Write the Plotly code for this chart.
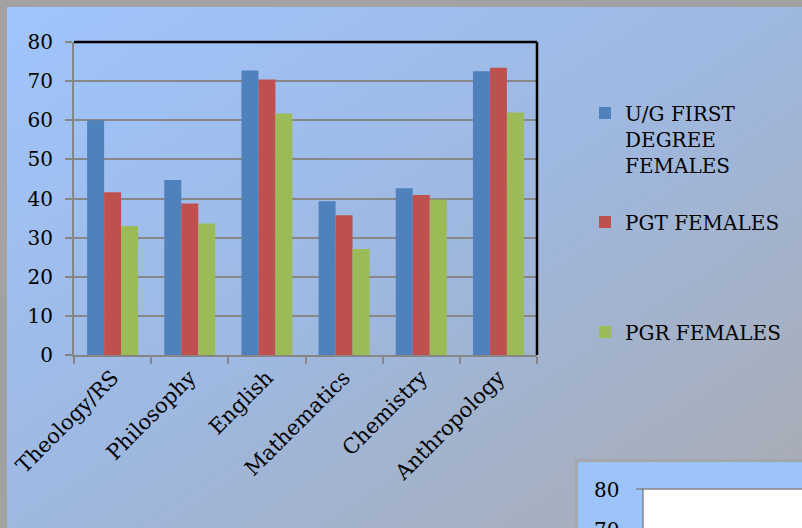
import base64
import plotly.graph_objects as go

# ---------------- data ----------------
categories = ["Theology/RS", "Philosophy", "English", "Mathematics", "Chemistry", "Anthropology"]
ug_first_degree_females = [60.0, 44.7, 72.7, 39.3, 42.6, 72.5]
pgt_females = [41.6, 38.7, 70.4, 35.7, 40.9, 73.4]
pgr_females = [33.0, 33.6, 61.7, 27.1, 39.7, 62.0]
series_names = ["U/G FIRST<br>DEGREE<br>FEMALES", "PGT FEMALES", "PGR FEMALES"]
y_tick_values = [0, 10, 20, 30, 40, 50, 60, 70, 80]

# ---------------- styling ----------------
W, H = 802, 528
PL, PR, PT, PB = 74, 537, 42, 355  # plot area in pixels
FONT = "DejaVu Serif"
colors = ["#4f81bd", "#c0504d", "#9bbb59"]


def xp(px):
    return (px - PL) / (PR - PL)


def yp(py):
    return (PB - py) / (PB - PT)


fig = go.Figure()
for name, vals, col, lg in zip(series_names,
                               [ug_first_degree_females, pgt_females, pgr_females],
                               colors, ["legend", "legend2", "legend3"]):
    fig.add_trace(go.Bar(x=categories, y=vals, name=name, marker_color=col,
                         marker_line_width=0, legend=lg, showlegend=True))

# background gradient as svg image
svg = ('<svg xmlns="http://www.w3.org/2000/svg" width="800" height="520" preserveAspectRatio="none">'
       '<defs><linearGradient id="g" x1="0" y1="0" x2="1" y2="1">'
       '<stop offset="0" stop-color="#9fc5fd"/>'
       '<stop offset="0.5" stop-color="#9eb8e0"/>'
       '<stop offset="1" stop-color="#aaabb0"/>'
       '</linearGradient></defs>'
       '<rect width="800" height="520" fill="url(#g)"/></svg>')
src = "data:image/svg+xml;base64," + base64.b64encode(svg.encode()).decode()
fig.add_layout_image(dict(source=src, xref="paper", yref="paper",
                          x=xp(7), y=yp(7), sizex=(W - 7) / (PR - PL), sizey=(H - 7) / (PB - PT),
                          xanchor="left", yanchor="top", sizing="stretch", layer="below"))

shapes = [
    # black top and right border of plot area
    dict(type="line", xref="paper", yref="paper", x0=0, x1=1, y0=1, y1=1,
         line=dict(color="#000000", width=2.5)),
    dict(type="line", xref="paper", yref="paper", x0=1, x1=1, y0=0, y1=1,
         line=dict(color="#000000", width=2.5)),
    # fragment of the neighbouring chart in the lower right
    dict(type="rect", xref="paper", yref="paper", x0=xp(575), x1=xp(806), y0=yp(459), y1=yp(540),
         line_width=0, fillcolor="#a5a7ac"),
    dict(type="rect", xref="paper", yref="paper", x0=xp(578), x1=xp(806), y0=yp(462), y1=yp(540),
         line_width=0, fillcolor="#9dc3fb"),
    dict(type="rect", xref="paper", yref="paper", x0=xp(643), x1=xp(806), y0=yp(489), y1=yp(540),
         line=dict(color="#868686", width=1.5), fillcolor="#ffffff"),
    dict(type="line", xref="paper", yref="paper", x0=xp(636), x1=xp(643), y0=yp(489), y1=yp(489),
         line=dict(color="#868686", width=1.5)),
]

annotations = [
    dict(text="80", xref="paper", yref="paper", x=xp(621), y=yp(490), xanchor="right", yanchor="middle",
         showarrow=False, font=dict(family=FONT, size=20, color="#000000")),
    dict(text="70", xref="paper", yref="paper", x=xp(621), y=yp(530), xanchor="right", yanchor="middle",
         showarrow=False, font=dict(family=FONT, size=20, color="#000000")),
]

leg_common = dict(bgcolor="rgba(0,0,0,0)", borderwidth=0, xanchor="left", yanchor="middle",
                  valign="top", font=dict(family=FONT, size=20, color="#000000"), itemclick=False,
                  visible=True)

fig.update_layout(
    width=W, height=H,
    margin=dict(l=PL, r=W - PR, t=PT, b=H - PB, pad=0),
    paper_bgcolor="#a2a2a2",
    plot_bgcolor="#ffffff",
    showlegend=True,
    barmode="group", bargap=0.34, bargroupgap=0,
    font=dict(family=FONT, size=20, color="#000000"),
    shapes=shapes,
    annotations=annotations,
    legend=dict(x=xp(585), y=yp(139), **leg_common),
    legend2=dict(x=xp(585), y=yp(222), **leg_common),
    legend3=dict(x=xp(585), y=yp(332), **leg_common),
    xaxis=dict(showline=True, linecolor="#868686", linewidth=2, ticks="outside", tickson="boundaries",
               ticklen=7, tickwidth=2, tickcolor="#868686", tickangle=-45, showgrid=False,
               tickfont=dict(family=FONT, size=21, color="#000000")),
    yaxis=dict(range=[0, 80], tickvals=y_tick_values, showline=True, linecolor="#868686", linewidth=2,
               ticks="outside", ticklen=7, tickwidth=2, tickcolor="#868686",
               showgrid=True, gridcolor="#878787", gridwidth=1.5, zeroline=False,
               ticklabelstandoff=8,
               tickfont=dict(family=FONT, size=20, color="#000000")),
)

fig.write_html("out.html", config={"displayModeBar": False},
               post_script="document.body.style.margin='0';document.body.style.padding='0';")
